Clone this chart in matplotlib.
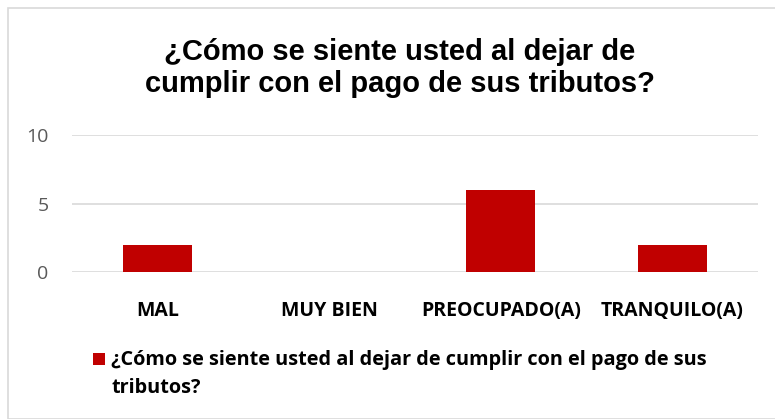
import matplotlib
matplotlib.use("Agg")
import matplotlib.pyplot as plt
from matplotlib.patches import Rectangle

# ---- data
categories = ["MAL", "MUY BIEN", "PREOCUPADO(A)", "TRANQUILO(A)"]
values = [2, 0, 6, 2]
series_name = "¿Cómo se siente usted al dejar de cumplir con el pago de sus\ntributos?"
title = "¿Cómo se siente usted al dejar de\ncumplir con el pago de sus tributos?"
yticks = [0, 5, 10]

bar_color = "#C00000"
grid_color = "#D9D9D9"
font_body = ["Open Sans", "DejaVu Sans"]

fig = plt.figure(figsize=(7.75, 4.19), dpi=100)
W, H = 775, 419

# ---- chart border
fig.patches.append(Rectangle((8 / W, 0.5 / H), 1.2, (H - 8.5) / H, transform=fig.transFigure,
                             fill=False, edgecolor=grid_color, linewidth=1.2))

ax = fig.add_axes([72 / W, 1 - 272 / H, 686 / W, (272 - 135) / H])
x = range(len(categories))
ax.bar(x, values, width=0.4, color=bar_color, zorder=3)
ax.set_xlim(-0.5, len(categories) - 0.5)
ax.set_ylim(0, 10)
ax.set_yticks(yticks)
ax.set_yticklabels([str(v) for v in yticks], fontsize=14, color="#595959", family=font_body)
ax.set_xticks(list(x))
ax.set_xticklabels(categories, fontsize=14, fontweight="bold", color="black",
                   family=font_body)
ax.tick_params(axis="both", length=0)
ax.tick_params(axis="y", pad=17)
ax.tick_params(axis="x", pad=21)
for s in ax.spines.values():
    s.set_visible(False)
ax.yaxis.grid(True, color=grid_color, linewidth=1.2, zorder=0)
ax.set_axisbelow(True)

fig.text(400 / W, 1 - 68 / H, title, ha="center", va="center", fontsize=21,
         fontweight="bold", color="black", family=["Liberation Sans", "DejaVu Sans"],
         linespacing=1.2)

# ---- legend
fig.patches.append(Rectangle((93 / W, 1 - 365 / H), 12 / W, 12 / H, transform=fig.transFigure,
                             facecolor=bar_color, edgecolor="none"))
fig.text(111 / W, 1 - 350 / H, series_name, ha="left", va="top", fontsize=14.3,
         fontweight="bold", color="black", family=font_body, linespacing=1.5)

fig.savefig("out.png", dpi=100, facecolor="white")
